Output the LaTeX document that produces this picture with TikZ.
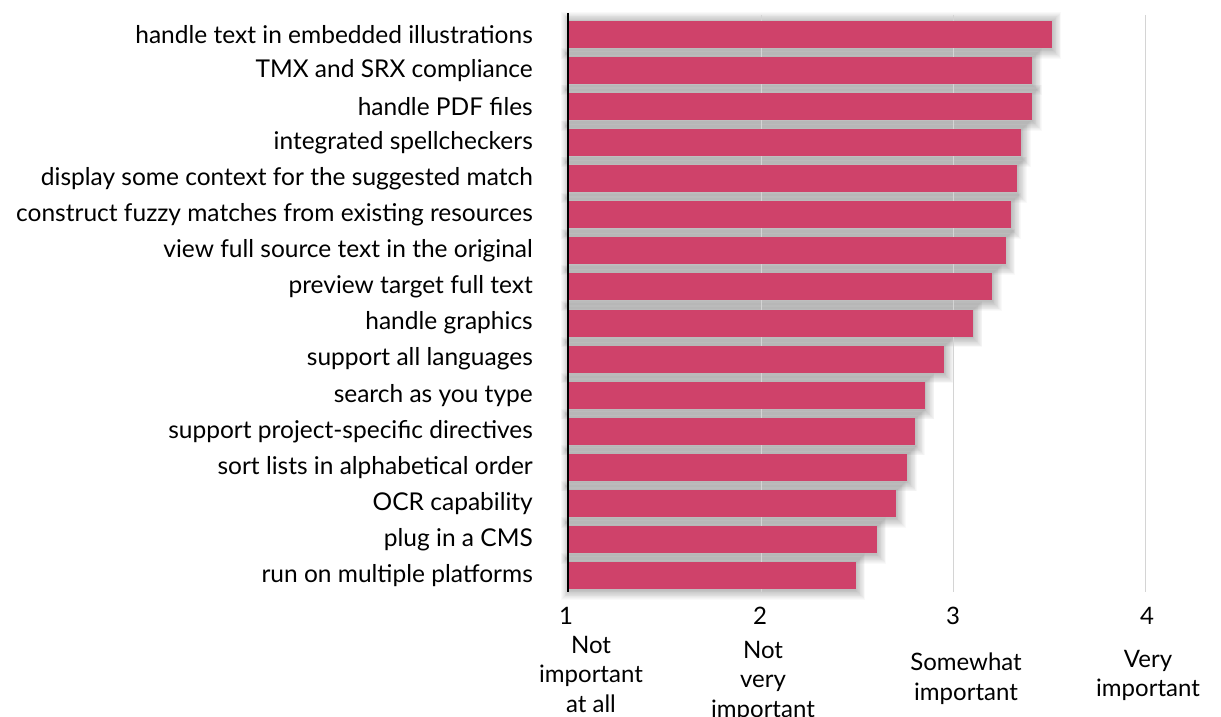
\documentclass[tikz,border=0pt]{standalone}
\usepackage{fontspec}
\setmainfont{Lato}
\definecolor{barc}{RGB}{207,66,106}
\definecolor{gridc}{RGB}{212,212,212}
\tikzset{
  lbl/.style={anchor=east, font=\fontsize{24.5}{28}\selectfont, inner sep=0pt},
  tickl/.style={anchor=center, font=\fontsize{24}{28}\selectfont, inner sep=0pt},
  catl/.style={align=center, anchor=north, inner sep=0pt, font=\fontsize{24}{29.5}\selectfont},
  barfill/.style={fill=barc, draw=none},
  shadowfill/.style={fill=black, opacity=0.024},
  gridline/.style={draw=gridc, line width=1pt},
  axisline/.style={draw=black, line width=2pt},
}
\begin{document}
\begin{tikzpicture}[x=1pt,y=-1pt]
\useasboundingbox (0,0) rectangle (1221,717);
\def\barlist{1/3.51/handle text in embedded illustrations,
2/3.41/TMX and SRX compliance,
3/3.41/handle PDF files,
4/3.35/integrated spellcheckers,
5/3.33/display some context for the suggested match,
6/3.30/construct fuzzy matches from existing resources,
7/3.27/view full source text in the original,
8/3.20/preview target full text,
9/3.10/handle graphics,
10/2.95/support all languages,
11/2.85/search as you type,
12/2.80/support project-specific directives,
13/2.76/sort lists in alphabetical order,
14/2.70/OCR capability,
15/2.60/plug in a CMS,
16/2.49/run on multiple platforms}
% shadows
\foreach \i/\v/\t in \barlist {
  \pgfmathsetmacro\yc{34.5+36.07*(\i-1)}
  \pgfmathsetmacro\xe{569+(\v-1)*192.3}
  \foreach \k in {1,...,12}
    \fill[shadowfill] ({571-0.8*\k},{\yc-12.5-0.8*\k}) rectangle ({\xe+0.8*\k},{\yc+14.5+0.8*\k});
}
% grid
\foreach \g in {2,3,4}
  \draw[gridline] ({569+(\g-1)*192.3},15) -- ({569+(\g-1)*192.3},592);
% bars and labels
\foreach \i/\v/\t in \barlist {
  \pgfmathsetmacro\yc{34.5+36.07*(\i-1)}
  \pgfmathsetmacro\xe{569+(\v-1)*192.3}
  \fill[barfill] (569,{\yc-13.5}) rectangle (\xe,{\yc+13.5});
  \node[lbl] (l\i) at (533,\yc) {\t};
}
% axis
\coordinate (atop) at (568,13);
\coordinate (abot) at (568,592);
\draw[axisline] (atop) -- (abot);
% ticks
\node[tickl] (t1) at (566,616) {1};
\node[tickl] (t2) at (760,616) {2};
\node[tickl] (t3) at (953,616) {3};
\node[tickl] (t4) at (1147,616) {4};
\node[catl] (c1) at (591,636) {Not\\important\\at all};
\node[catl] (c2) at (763,641) {Not\\very\\important};
\node[catl] (c3) at (966,653) {Somewhat\\important};
\node[catl] (c4) at (1148,650) {Very\\important};
\end{tikzpicture}
\end{document}
